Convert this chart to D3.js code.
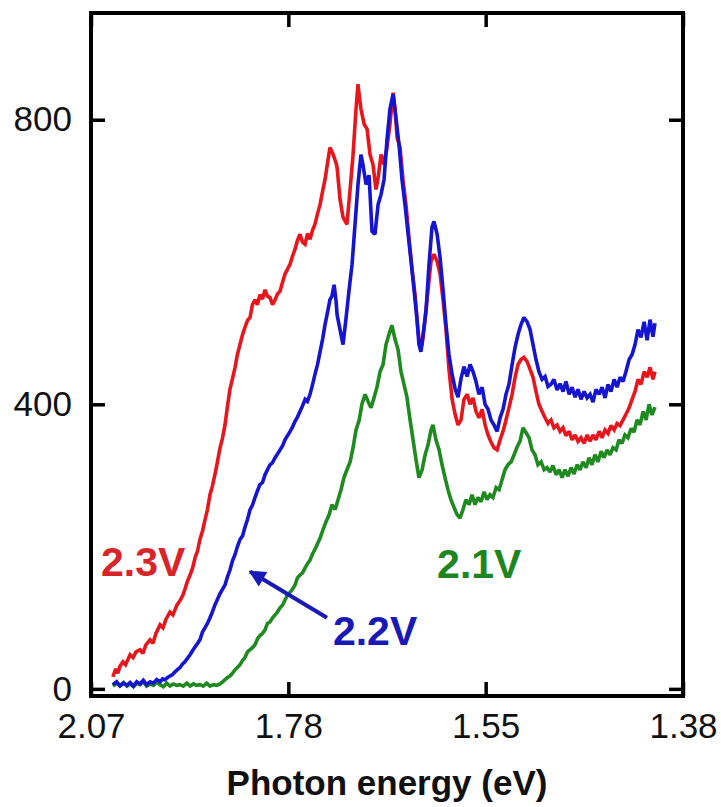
<!DOCTYPE html>
<html>
<head>
<meta charset="utf-8">
<script src="https://cdn.jsdelivr.net/npm/d3@7"></script>
<style>
  html, body { margin: 0; padding: 0; background: #fff; }
  svg { display: block; }
  text { font-family: "Liberation Sans", Arial, Helvetica, sans-serif; }
</style>
</head>
<body>
<svg id="chart" width="721" height="807"></svg>
<script>
// ---- Data (x = wavelength in nm, axis linear in wavelength, labelled in photon energy) ----
const tickWavelengths = [600, 700, 800, 900];
const tickEnergyLabels = ["2.07", "1.78", "1.55", "1.38"];
const yTicks = [0, 400, 800];

// 2.3 V spectrum [wavelength nm, intensity]
const series23 = [[611.1,17],[612.5,28],[613.6,22],[614.7,32],[616.2,38],[617.5,34],[619.8,48],[621.3,44],[622.8,52],[624.8,55],[626.3,50],[627.8,62],[629.9,69],[631.4,64],[632.9,78],[635.0,90],[636.5,86],[638.0,98],[640.0,108],[641.5,104],[643.6,118],[645.1,124],[646.6,132],[647.6,140],[648.7,150],[650.2,160],[651.5,170],[652.7,184],[654.0,194],[655.2,210],[656.5,222],[657.8,238],[659.0,252],[660.3,273],[661.5,285],[662.8,301],[664.0,318],[665.4,339],[666.6,352],[667.9,371],[669.1,396],[670.4,421],[671.7,436],[673.0,452],[674.2,470],[675.5,484],[676.8,498],[678.0,508],[679.3,518],[680.6,522],[681.8,540],[683.1,547],[684.3,540],[685.6,554],[686.9,548],[688.2,561],[689.4,552],[690.7,550],[692.0,540],[693.3,547],[694.5,555],[695.8,559],[697.1,572],[698.3,583],[699.6,590],[700.9,597],[702.1,608],[703.4,618],[704.6,630],[705.9,639],[707.2,628],[708.5,625],[709.7,640],[711.0,632],[712.3,645],[713.5,653],[714.8,668],[716.1,681],[717.4,700],[718.6,716],[719.9,740],[721.1,761],[722.6,752],[724.1,740],[724.7,733],[726.2,688],[727.7,663],[729.7,653],[731.3,702],[732.8,751],[734.3,815],[735.3,850],[736.1,830],[736.8,815],[738.4,794],[739.9,787],[741.4,751],[742.9,737],[744.4,702],[745.5,718],[747.0,751],[748.5,737],[750.0,761],[751.5,794],[753.1,838],[754.1,815],[755.1,775],[756.6,761],[758.1,716],[759.6,681],[761.2,632],[762.7,590],[764.2,554],[765.7,505],[766.7,480],[767.8,484],[769.3,519],[770.8,561],[772.3,601],[773.8,611],[775.4,601],[776.9,583],[778.4,547],[779.9,505],[781.4,449],[783.0,407],[784.5,386],[786.0,371],[787.5,378],[789.0,407],[790.6,414],[792.1,400],[793.6,409],[795.1,390],[796.6,381],[798.2,393],[799.7,371],[801.2,357],[802.7,347],[804.2,339],[805.8,336],[807.3,350],[808.8,362],[810.3,378],[811.8,395],[813.4,414],[814.9,438],[816.4,456],[817.9,463],[819.4,466],[821.0,460],[822.5,449],[824.0,438],[825.5,418],[827.0,400],[828.6,390],[830.1,381],[831.6,373],[833.1,378],[834.6,367],[836.2,371],[837.7,362],[839.2,367],[840.7,356],[842.3,362],[843.8,350],[845.3,357],[846.8,348],[848.3,353],[849.9,345],[851.4,357],[852.9,348],[854.4,357],[855.9,350],[857.5,362],[859.0,353],[860.5,364],[862.0,359],[863.5,370],[865.1,364],[866.6,373],[868.1,370],[869.6,378],[871.1,386],[872.7,395],[874.2,407],[875.7,418],[877.2,435],[878.7,428],[880.3,446],[881.8,438],[883.3,452],[884.8,435],[885.8,446]];

// 2.2 V spectrum
const series22 = [[611.1,6],[613.0,10],[614.7,4],[616.5,8],[618.2,5],[619.8,9],[621.5,4],[623.2,10],[624.8,7],[626.5,12],[628.2,6],[629.9,10],[631.6,8],[633.3,13],[635.0,10],[636.3,14],[637.5,13],[638.8,16],[640.0,18],[641.3,20],[642.6,24],[643.8,27],[645.1,30],[646.4,35],[647.6,38],[648.9,43],[650.2,48],[651.5,54],[652.7,59],[654.0,64],[655.2,69],[656.5,80],[657.8,86],[659.0,92],[660.3,100],[661.5,108],[662.8,118],[664.1,126],[665.4,134],[666.6,140],[667.9,146],[669.2,158],[670.4,167],[671.7,180],[673.0,189],[674.2,200],[675.5,210],[676.8,215],[678.0,227],[679.3,238],[680.6,252],[681.8,258],[683.1,269],[684.3,278],[685.6,287],[686.9,290],[688.2,301],[689.4,308],[690.7,315],[692.0,318],[693.3,325],[694.5,330],[695.8,336],[697.1,342],[698.3,350],[699.6,356],[700.9,362],[702.1,368],[703.4,376],[704.6,382],[705.9,390],[707.2,398],[708.5,407],[709.7,404],[711.0,414],[712.3,428],[713.5,442],[714.8,456],[716.1,474],[717.4,492],[718.6,512],[719.9,530],[721.1,547],[722.1,552],[723.2,568],[724.2,545],[724.7,526],[726.2,505],[727.7,484],[729.2,520],[730.8,561],[732.3,597],[733.8,653],[735.3,709],[736.8,751],[737.8,737],[739.4,709],[740.9,722],[742.4,643],[743.9,639],[745.5,681],[747.0,695],[748.5,716],[750.0,772],[751.5,815],[753.1,836],[754.6,801],[756.1,765],[757.6,716],[759.1,681],[760.7,639],[762.2,601],[763.7,561],[765.2,519],[766.2,484],[767.2,474],[768.3,498],[769.8,533],[771.3,597],[772.8,649],[773.8,657],[775.4,639],[776.9,606],[778.4,561],[779.9,512],[781.4,470],[783.0,442],[784.5,422],[786.0,410],[787.5,436],[789.0,453],[790.6,439],[792.1,456],[793.6,446],[795.1,432],[796.6,414],[798.2,424],[799.7,400],[801.2,393],[802.7,378],[804.2,371],[805.8,362],[807.3,381],[808.8,393],[810.3,414],[811.8,428],[813.4,456],[814.9,480],[816.4,498],[817.9,512],[819.4,522],[821.0,516],[822.5,505],[824.0,484],[825.5,463],[827.0,446],[828.6,435],[830.1,439],[831.6,425],[833.1,428],[834.6,435],[836.2,420],[837.7,429],[839.2,418],[840.7,432],[842.3,414],[843.8,424],[845.3,410],[846.8,421],[848.3,407],[849.9,418],[851.4,409],[852.9,414],[854.4,403],[855.9,421],[857.5,414],[859.0,424],[860.5,409],[862.0,428],[863.5,418],[865.1,435],[866.6,424],[868.1,438],[869.6,432],[871.1,446],[872.7,463],[874.2,470],[875.7,484],[877.2,505],[878.7,494],[880.3,516],[881.8,490],[883.3,519],[884.8,495],[885.8,514]];

// 2.1 V spectrum
const series21 = [[611.1,4],[613.0,8],[614.7,5],[616.5,9],[618.2,4],[619.8,7],[621.5,3],[623.2,8],[624.8,6],[626.5,10],[628.2,4],[629.9,7],[631.6,5],[633.3,9],[635.0,6],[636.7,3],[638.4,8],[640.0,4],[641.7,7],[643.4,5],[645.1,6],[646.8,4],[648.5,8],[650.2,4],[651.9,7],[653.5,5],[655.2,6],[656.9,4],[658.6,8],[660.3,4],[662.0,6],[663.7,5],[665.4,7],[666.7,10],[667.9,13],[669.2,16],[670.4,18],[671.7,22],[673.0,27],[674.2,30],[675.5,34],[676.8,40],[678.0,44],[679.3,52],[680.6,55],[681.8,58],[683.1,62],[684.3,70],[685.6,75],[686.9,78],[688.2,83],[689.4,92],[690.7,94],[692.0,100],[693.3,104],[694.5,108],[695.8,114],[697.1,118],[698.3,125],[699.6,132],[700.9,136],[702.1,140],[703.4,146],[704.6,156],[705.9,160],[707.2,163],[708.5,170],[709.7,176],[711.0,181],[712.3,190],[713.5,196],[714.8,204],[716.1,212],[717.6,224],[719.1,235],[720.7,245],[722.1,259],[723.7,252],[725.2,266],[726.7,280],[728.2,297],[729.7,308],[731.3,319],[732.8,339],[734.3,364],[735.9,378],[737.3,400],[738.9,414],[740.4,404],[741.9,395],[743.4,409],[744.9,424],[746.5,446],[748.0,456],[749.5,484],[751.0,498],[752.5,511],[754.1,491],[755.6,477],[757.1,446],[758.6,428],[760.1,410],[761.7,378],[763.2,350],[764.7,322],[766.2,297],[767.8,308],[769.3,329],[770.8,343],[772.3,364],[773.3,371],[774.8,350],[776.4,336],[777.9,315],[779.4,297],[780.9,280],[782.4,266],[784.0,255],[785.5,245],[787.0,240],[788.5,252],[790.0,266],[791.6,259],[793.1,273],[794.6,259],[796.1,269],[797.7,263],[799.2,277],[800.7,266],[802.2,273],[803.7,269],[805.3,283],[806.8,280],[808.3,294],[809.8,308],[811.3,315],[812.9,319],[814.4,329],[815.9,340],[817.4,348],[818.9,367],[820.5,360],[822.0,353],[823.5,336],[825.0,329],[826.5,315],[828.1,319],[829.6,308],[831.1,311],[832.6,305],[834.1,314],[835.7,301],[837.2,308],[838.7,297],[840.2,308],[841.7,299],[843.3,311],[844.8,302],[846.3,315],[847.8,308],[849.3,319],[850.9,311],[852.4,325],[853.9,315],[855.4,329],[856.9,319],[858.5,334],[860.0,325],[861.5,336],[863.0,329],[864.5,339],[866.1,336],[867.6,350],[869.1,345],[870.6,357],[872.1,353],[873.7,366],[875.2,361],[876.7,378],[878.2,371],[879.8,390],[881.3,378],[882.8,400],[884.3,385],[885.8,396]];

// Curve labels: [text, wavelength, intensity]
const curveLabels = [["2.3V", 605.1, 159], ["2.2V", 722.6, 62], ["2.1V", 775.4, 156]];
// Arrow for 2.2V label: tail -> tip (wavelength, intensity)
const arrowTail = [719.6, 100];
const arrowTip = [680.6, 165];

const colors = { red: "#e8161c", blue: "#1414d2", green: "#1f8a1f" };
const labelColors = ["#d9252a", "#1919b8", "#1e861e"];

// ---- Layout ----
const svg = d3.select("#chart");
const mLeft = 91, mRight = 683, mTop = 13, mBottom = 696;

const x = d3.scaleLinear().domain([600, 900]).range([mLeft, mRight]);
const y = d3.scaleLinear().domain([-10, 950]).range([mBottom, mTop]);

const line = d3.line().x(d => x(d[0])).y(d => y(d[1]));

const plot = svg.append("g");
[[series21, colors.green], [series23, colors.red], [series22, colors.blue]].forEach(([s, c]) => {
  plot.append("path").datum(s)
    .attr("d", line)
    .attr("fill", "none")
    .attr("stroke", c)
    .attr("stroke-width", 3.6)
    .attr("stroke-linejoin", "miter")
    .attr("stroke-miterlimit", 2);
});

// ---- Axes ----
const tickLen = 14;
const fmtE = (d, i) => tickEnergyLabels[i];

const gB = svg.append("g").attr("transform", `translate(0,${mBottom})`)
  .call(d3.axisBottom(x).tickValues(tickWavelengths).tickFormat(fmtE).tickSizeInner(-tickLen).tickSizeOuter(0).tickPadding(17));
const gT = svg.append("g").attr("transform", `translate(0,${mTop})`)
  .call(d3.axisTop(x).tickValues(tickWavelengths).tickFormat("").tickSizeInner(-tickLen).tickSizeOuter(0));
const gL = svg.append("g").attr("transform", `translate(${mLeft},0)`)
  .call(d3.axisLeft(y).tickValues(yTicks).tickFormat(d3.format("d")).tickSizeInner(-tickLen).tickSizeOuter(0).tickPadding(19));
const gR = svg.append("g").attr("transform", `translate(${mRight},0)`)
  .call(d3.axisRight(y).tickValues(yTicks).tickFormat("").tickSizeInner(-tickLen).tickSizeOuter(0));

[gB, gT, gL, gR].forEach(g => {
  g.select(".domain").remove();
  g.selectAll(".tick line").attr("stroke", "#000").attr("stroke-width", 3.5);
  g.selectAll(".tick text").attr("fill", "#111").attr("font-size", 35)
    .attr("font-family", "'Liberation Sans', Arial, sans-serif");
});

// frame
svg.append("rect")
  .attr("x", mLeft).attr("y", mTop)
  .attr("width", mRight - mLeft).attr("height", mBottom - mTop)
  .attr("fill", "none").attr("stroke", "#000").attr("stroke-width", 4);

// x-axis title
svg.append("text")
  .attr("x", (mLeft + mRight) / 2).attr("y", 795)
  .attr("text-anchor", "middle")
  .attr("font-size", 35).attr("font-weight", "bold").attr("fill", "#111")
  .text("Photon energy (eV)");

// curve labels
svg.selectAll("text.curve").data(curveLabels).enter().append("text")
  .attr("class", "curve")
  .attr("x", d => x(d[1])).attr("y", d => y(d[2]))
  .attr("font-size", 41).attr("font-weight", "bold")
  .attr("fill", (d, i) => labelColors[i])
  .text(d => d[0]);

// arrow
const defs = svg.append("defs");
defs.append("marker").attr("id", "ah")
  .attr("viewBox", "0 0 10 10").attr("refX", 9).attr("refY", 5)
  .attr("markerWidth", 4.5).attr("markerHeight", 4.2).attr("orient", "auto")
  .attr("markerUnits", "strokeWidth")
  .append("path").attr("d", "M0,0 L10,5 L0,10 z").attr("fill", labelColors[1]);
svg.append("line")
  .attr("x1", x(arrowTail[0])).attr("y1", y(arrowTail[1]))
  .attr("x2", x(arrowTip[0])).attr("y2", y(arrowTip[1]))
  .attr("stroke", labelColors[1]).attr("stroke-width", 4)
  .attr("marker-end", "url(#ah)");
</script>
</body>
</html>
